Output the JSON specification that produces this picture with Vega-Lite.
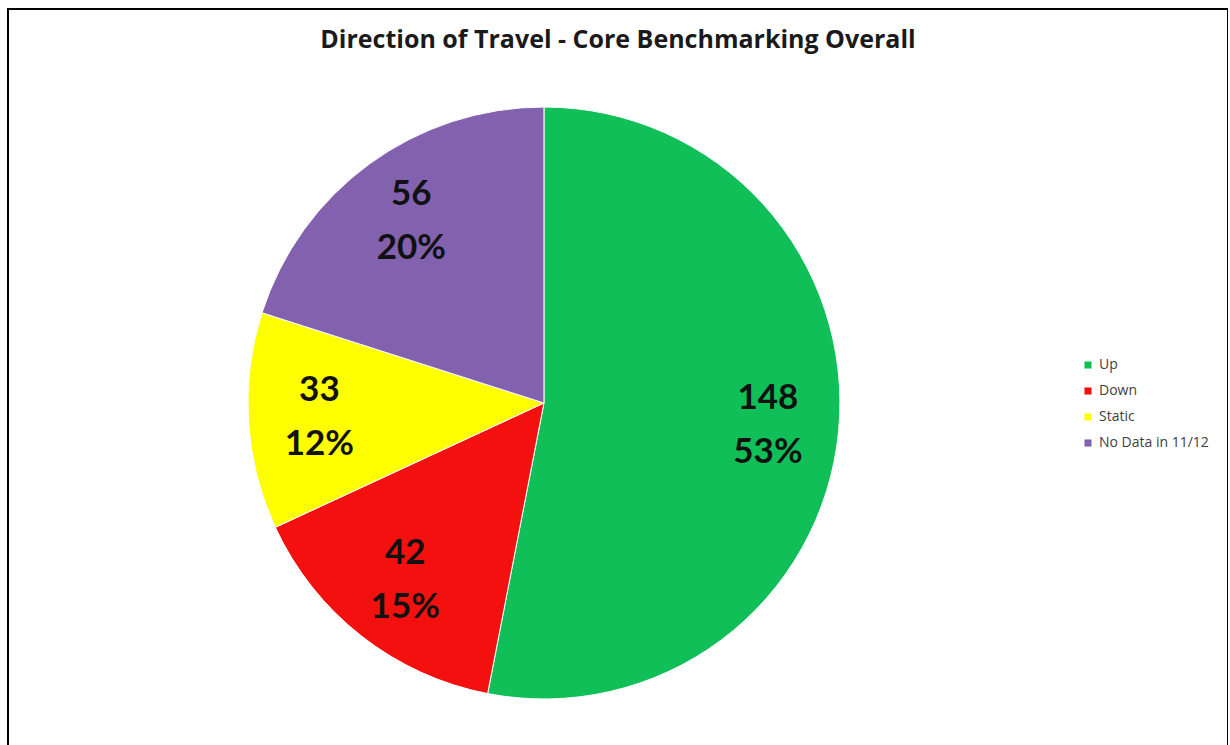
{
  "$schema": "https://vega.github.io/schema/vega-lite/v6.json",
  "autosize": {"type": "none"},
  "padding": {"left": 8, "top": 9, "right": 0, "bottom": 0},
  "width": 1220,
  "height": 788,
  "background": "#ffffff",
  "view": {"stroke": "#000000", "strokeWidth": 2, "fill": "#ffffff"},
  "config": {
    "view": {"stroke": "#000000", "strokeWidth": 2},
    "font": "Lato"
  },
  "title": {
    "text": "Direction of Travel - Core Benchmarking Overall",
    "font": "Open Sans",
    "fontSize": 25,
    "fontWeight": "bold",
    "color": "#1a1a1a",
    "anchor": "middle",
    "offset": -44
  },
  "data": {
    "values": [
      {"category": "Up", "count": 148, "pct": "53%", "order": 1},
      {"category": "Down", "count": 42, "pct": "15%", "order": 2},
      {"category": "Static", "count": 33, "pct": "12%", "order": 3},
      {"category": "No Data in 11/12", "count": 56, "pct": "20%", "order": 4}
    ]
  },
  "encoding": {
    "theta": {"field": "count", "type": "quantitative", "stack": true},
    "order": {"field": "order", "type": "quantitative"},
    "color": {
      "field": "category",
      "type": "nominal",
      "sort": ["Up", "Down", "Static", "No Data in 11/12"],
      "scale": {
        "domain": ["Up", "Down", "Static", "No Data in 11/12"],
        "range": ["#10BF58", "#F51010", "#FFFF00", "#8261AE"]
      },
      "legend": {
        "title": null,
        "orient": "none",
        "legendX": 1073,
        "legendY": 349,
        "symbolType": "square",
        "symbolSize": 50,
        "symbolStrokeWidth": 0,
        "labelFont": "Open Sans",
        "labelFontSize": 14,
        "labelColor": "#404040",
        "rowPadding": 12,
        "labelOffset": 4
      }
    }
  },
  "layer": [
    {
      "mark": {"type": "arc", "outerRadius": 296, "x": {"expr": "width*0.4393"}, "stroke": "#ffffff", "strokeWidth": 1}
    },
    {
      "mark": {"type": "text", "radius": 225, "x": {"expr": "width*0.4393"}, "dy": -27, "font": "Lato", "fontSize": 35, "fontWeight": "bold", "fill": "#111111"},
      "encoding": {"text": {"field": "count", "type": "quantitative"}, "color": {"value": "#111111"}}
    },
    {
      "mark": {"type": "text", "radius": 225, "x": {"expr": "width*0.4393"}, "dy": 27, "font": "Lato", "fontSize": 35, "fontWeight": "bold", "fill": "#111111"},
      "encoding": {"text": {"field": "pct", "type": "nominal"}, "color": {"value": "#111111"}}
    }
  ]
}
